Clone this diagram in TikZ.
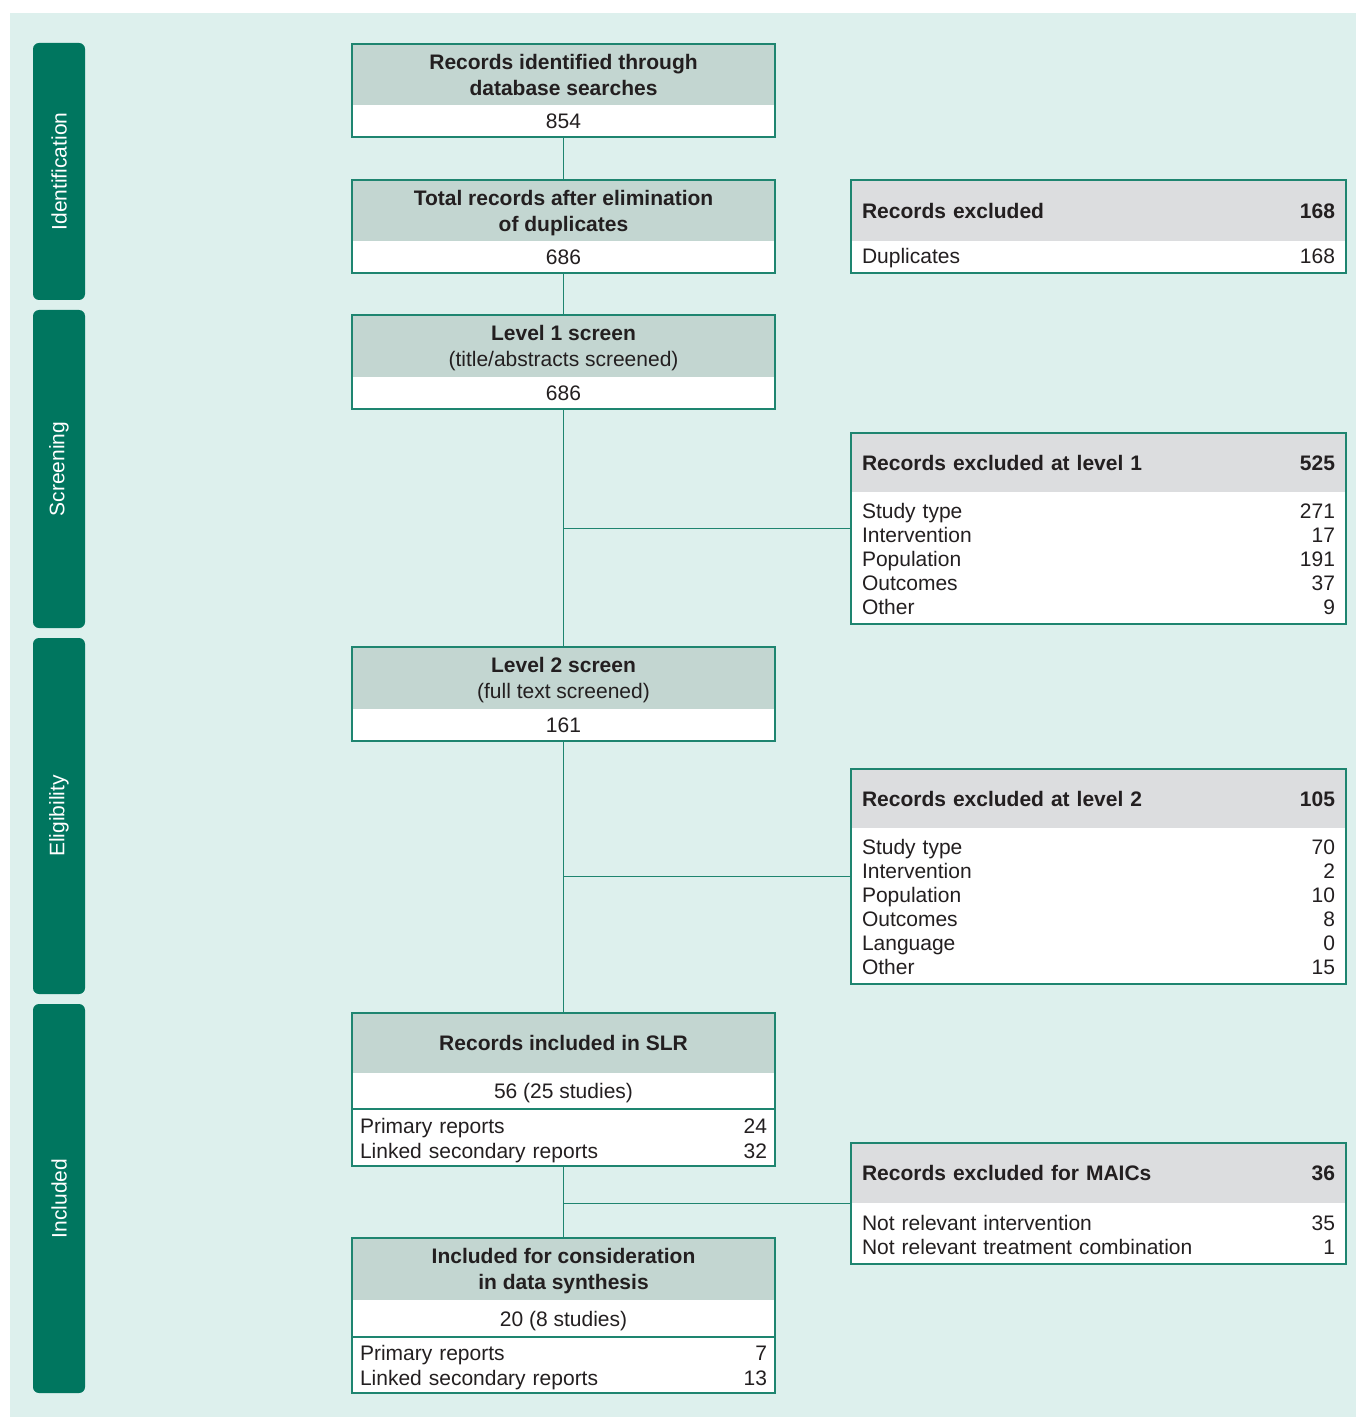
\documentclass[tikz,border=0pt]{standalone}
\usepackage{fontspec}
\setmainfont{Liberation Sans}
\usetikzlibrary{fit}
\definecolor{bgc}{HTML}{DDF0ED}
\definecolor{dteal}{HTML}{00765F}
\definecolor{hdrg}{HTML}{C3D6D1}
\definecolor{hdrgray}{HTML}{DCDDDF}
\definecolor{bord}{HTML}{1E8570}
\definecolor{txt}{HTML}{231F20}
\newcommand{\hfont}{\fontsize{10.5}{13}\selectfont}
\newcommand{\rfont}{\fontsize{10.5}{12}\selectfont}
\newcommand{\mfont}{\fontsize{10.5}{12.5}\selectfont}
\tikzset{
  base/.style={inner sep=0pt, outer sep=0pt, text=txt},
  mhdr/.style={base, text depth=0pt, fill=hdrg, minimum width=211.5pt, align=center, anchor=north, font=\hfont},
  mbody/.style={base, text depth=0pt, fill=white, minimum width=211.5pt, align=center, anchor=north, font=\hfont},
  mrows/.style={base, text height=10.2pt, fill=white, text width=203.5pt, inner xsep=4pt, anchor=north, font=\mfont},
  rhdr/.style={base, text depth=0pt, fill=hdrgray, text width=236.5pt, inner xsep=5.5pt, anchor=north west, font=\rfont},
  rbody/.style={base, text height=8.7pt, fill=white, text width=236.5pt, inner xsep=5.5pt, anchor=north, font=\rfont},
  frame/.style={draw=bord, line width=0.9pt, inner sep=0pt, outer sep=0pt},
  conn/.style={draw=bord, line width=0.9pt},
  side/.style={fill=dteal, rounded corners=3pt, rotate=90, minimum height=26pt, text=white, inner sep=0pt, font=\fontsize{10.5}{12}\selectfont},
}
\begin{document}
\begin{tikzpicture}[x=0.5pt, y=-0.5pt]
\useasboundingbox (0,0) rectangle (1356,1417);
\fill[bgc] (10,13) rectangle (1356,1417);

% side bars
\node[side, minimum width=128.5pt] (sid) at (59,171.5) {Identification};
\node[side, minimum width=159pt] (ssc) at (59,469) {Screening};
\node[side, minimum width=178pt] (sel) at (59,816) {Eligibility};
\node[side, minimum width=194.5pt] (sin) at (59,1198.5) {Included};

% main column
\node[mhdr, minimum height=30.5pt] (b1h) at (563.5,44) {\textbf{Records identified through}\\\textbf{database searches}};
\node[mbody, minimum height=16pt] (b1b) at (b1h.south) {854};
\node[frame, fit=(b1h)(b1b)] (b1) {};

\node[mhdr, minimum height=30.5pt] (b2h) at (563.5,180) {\textbf{Total records after elimination}\\\textbf{of duplicates}};
\node[mbody, minimum height=16pt] (b2b) at (b2h.south) {686};
\node[frame, fit=(b2h)(b2b)] (b2) {};

\node[mhdr, minimum height=31pt] (b3h) at (563.5,315) {\textbf{Level 1 screen}\\(title/abstracts screened)};
\node[mbody, minimum height=16pt] (b3b) at (b3h.south) {686};
\node[frame, fit=(b3h)(b3b)] (b3) {};

\node[mhdr, minimum height=31pt] (b4h) at (563.5,647) {\textbf{Level 2 screen}\\(full text screened)};
\node[mbody, minimum height=16pt] (b4b) at (b4h.south) {161};
\node[frame, fit=(b4h)(b4b)] (b4) {};

\node[mhdr, minimum height=30pt] (b5h) at (563.5,1013) {\textbf{Records included in SLR}};
\node[mbody, minimum height=18pt] (b5m) at (b5h.south) {56 (25 studies)};
\node[mrows, minimum height=28.5pt] (b5r) at (b5m.south) {Primary reports\hfill 24\\Linked secondary reports\hfill 32};
\node[frame, fit=(b5h)(b5r)] (b5) {};
\draw[conn] (b5m.south west) -- (b5m.south east);

\node[mhdr, minimum height=31pt] (b6h) at (563.5,1238) {\textbf{Included for consideration}\\\textbf{in data synthesis}};
\node[mbody, minimum height=18.5pt] (b6m) at (b6h.south) {20 (8 studies)};
\node[mrows, minimum height=28pt] (b6r) at (b6m.south) {Primary reports\hfill 7\\Linked secondary reports\hfill 13};
\node[frame, fit=(b6h)(b6r)] (b6) {};
\draw[conn] (b6m.south west) -- (b6m.south east);

% right column
\node[rhdr, minimum height=30.5pt] (r1h) at (851,180) {\textbf{Records excluded}\hfill\textbf{168}};
\node[rbody, minimum height=16pt] (r1b) at (r1h.south) {Duplicates\hfill 168};
\node[frame, fit=(r1h)(r1b)] (r1) {};

\node[rhdr, minimum height=29.5pt] (r2h) at (851,433) {\textbf{Records excluded at level 1}\hfill\textbf{525}};
\node[rbody, minimum height=66pt] (r2b) at (r2h.south) {Study type\hfill 271\\Intervention\hfill 17\\Population\hfill 191\\Outcomes\hfill 37\\Other\hfill 9};
\node[frame, fit=(r2h)(r2b)] (r2) {};

\node[rhdr, minimum height=29.5pt] (r3h) at (851,769) {\textbf{Records excluded at level 2}\hfill\textbf{105}};
\node[rbody, minimum height=78pt] (r3b) at (r3h.south) {Study type\hfill 70\\Intervention\hfill 2\\Population\hfill 10\\Outcomes\hfill 8\\Language\hfill 0\\Other\hfill 15};
\node[frame, fit=(r3h)(r3b)] (r3) {};

\node[rhdr, minimum height=30pt] (r4h) at (851,1143) {\textbf{Records excluded for MAICs}\hfill\textbf{36}};
\node[rbody, minimum height=30.5pt] (r4b) at (r4h.south) {Not relevant intervention\hfill 35\\Not relevant treatment combination\hfill 1};
\node[frame, fit=(r4h)(r4b)] (r4) {};

% connectors
\draw[conn] (b1.south) -- (b2.north);
\draw[conn] (b2.south) -- (b3.north);
\draw[conn] (b3.south) -- (b4.north);
\draw[conn] (b4.south) -- (b5.north);
\draw[conn] (b5.south) -- (b6.north);
\draw[conn] (b3.south |- r2.west) -- (r2.west);
\draw[conn] (b4.south |- r3.west) -- (r3.west);
\draw[conn] (b5.south |- r4.west) -- (r4.west);
\end{tikzpicture}
\end{document}
